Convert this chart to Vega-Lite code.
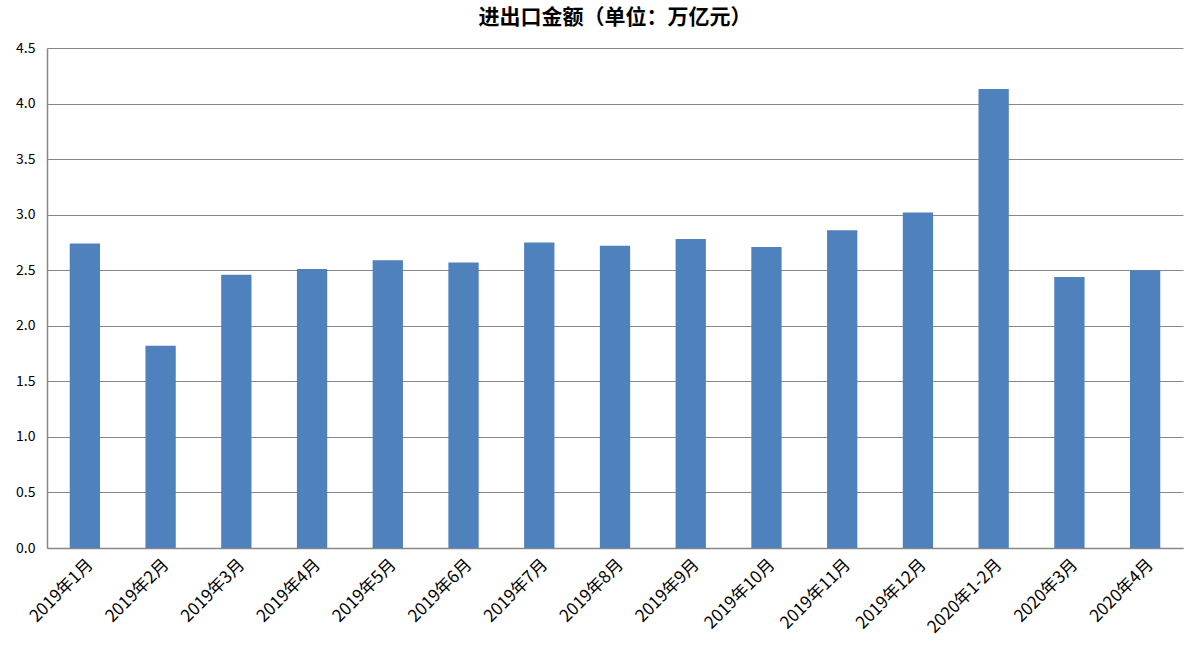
{
  "$schema": "https://vega.github.io/schema/vega-lite/v6.json",
  "autosize": {"type": "none"},
  "padding": {"left": 47, "top": 48, "right": 7, "bottom": 113},
  "width": 1136,
  "height": 500,
  "background": "white",
  "title": {
    "text": "进出口金额（单位：万亿元）",
    "font": "Noto Sans CJK SC",
    "fontSize": 21,
    "fontWeight": "bold",
    "color": "#000000",
    "anchor": "middle",
    "offset": 13
  },
  "data": {
    "values": [
      {"month": "2019年1月", "value": 2.74},
      {"month": "2019年2月", "value": 1.82},
      {"month": "2019年3月", "value": 2.46},
      {"month": "2019年4月", "value": 2.51},
      {"month": "2019年5月", "value": 2.59},
      {"month": "2019年6月", "value": 2.57},
      {"month": "2019年7月", "value": 2.75},
      {"month": "2019年8月", "value": 2.72},
      {"month": "2019年9月", "value": 2.78},
      {"month": "2019年10月", "value": 2.71},
      {"month": "2019年11月", "value": 2.86},
      {"month": "2019年12月", "value": 3.02},
      {"month": "2020年1-2月", "value": 4.13},
      {"month": "2020年3月", "value": 2.44},
      {"month": "2020年4月", "value": 2.50}
    ]
  },
  "mark": {"type": "bar", "color": "#4F81BD"},
  "encoding": {
    "x": {
      "field": "month",
      "type": "nominal",
      "sort": null,
      "title": null,
      "scale": {"paddingInner": 0.6, "paddingOuter": 0.3},
      "axis": {
        "labelAngle": -45,
        "labelFont": "Noto Sans CJK SC",
        "labelFontSize": 17,
        "labelColor": "#000000",
        "labelPadding": 8,
        "ticks": false,
        "domainColor": "#878787",
        "domainWidth": 1.5
      }
    },
    "y": {
      "field": "value",
      "type": "quantitative",
      "title": null,
      "scale": {"domain": [0, 4.5], "nice": false},
      "axis": {
        "values": [0, 0.5, 1, 1.5, 2, 2.5, 3, 3.5, 4, 4.5],
        "format": ".1f",
        "labelFont": "Noto Sans CJK SC",
        "labelFontSize": 14,
        "labelColor": "#000000",
        "labelPadding": 12,
        "ticks": false,
        "grid": true,
        "gridColor": "#878787",
        "gridWidth": 1,
        "domainColor": "#878787",
        "domainWidth": 1.5
      }
    }
  },
  "config": {"view": {"stroke": null}}
}
